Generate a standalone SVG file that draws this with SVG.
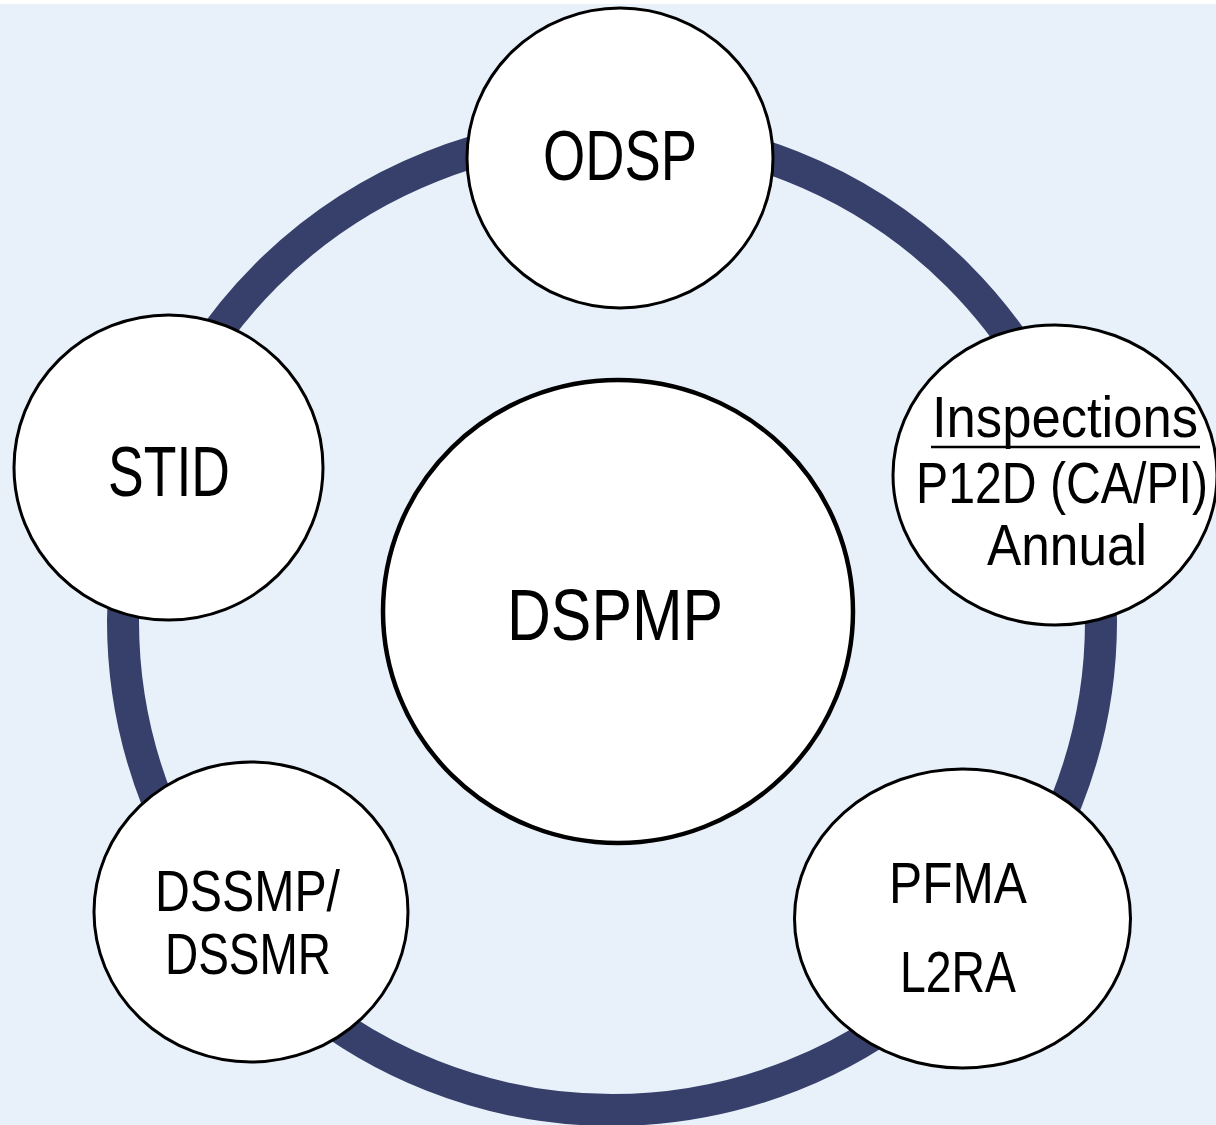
<svg xmlns="http://www.w3.org/2000/svg" width="1216" height="1125" viewBox="0 0 1216 1125">
  <style>
    .node { fill: #FFFFFF; stroke: #000000; stroke-width: 3; }
    .center { fill: #FFFFFF; stroke: #000000; stroke-width: 4.5; }
    .lbl { font-family: "Liberation Sans", Arial, sans-serif; fill: #000000; text-anchor: middle; }
    .big { font-size: 70px; }
    .mid { font-size: 57px; }
    .ring { fill: none; stroke: #36406A; stroke-width: 32; }
  </style>
  <rect x="0" y="0" width="1216" height="1125" fill="#FFFFFF"/>
  <rect x="0" y="4" width="1216" height="1121" fill="#E8F1FA"/>
  <g id="connectors">
    <circle class="ring" cx="612" cy="621" r="489"/>
  </g>
  <g id="node-dspmp">
    <ellipse class="center" cx="618" cy="611.5" rx="235" ry="231.5"/>
    <text class="lbl" x="615" y="640" font-size="72" textLength="216" lengthAdjust="spacingAndGlyphs">DSPMP</text>
  </g>
  <g id="node-odsp">
    <ellipse class="node" cx="620" cy="158" rx="153" ry="150"/>
    <text class="lbl big" x="620" y="180" textLength="154" lengthAdjust="spacingAndGlyphs">ODSP</text>
  </g>
  <g id="node-inspections">
    <ellipse class="node" cx="1055" cy="475" rx="162" ry="150"/>
    <text class="lbl mid" x="1065" y="437" textLength="266" lengthAdjust="spacingAndGlyphs">Inspections</text>
    <line x1="931" y1="447" x2="1200" y2="447" stroke="#000000" stroke-width="2.5"/>
    <text class="lbl mid" x="1062" y="503" textLength="292" lengthAdjust="spacingAndGlyphs">P12D (CA/PI)</text>
    <text class="lbl mid" x="1067" y="565" textLength="160" lengthAdjust="spacingAndGlyphs">Annual</text>
  </g>
  <g id="node-pfma">
    <ellipse class="node" cx="962.5" cy="918.5" rx="168" ry="149.5"/>
    <text class="lbl mid" x="958" y="903" textLength="138" lengthAdjust="spacingAndGlyphs">PFMA</text>
    <text class="lbl mid" x="958" y="992" textLength="116" lengthAdjust="spacingAndGlyphs">L2RA</text>
  </g>
  <g id="node-dssmp">
    <ellipse class="node" cx="251" cy="912" rx="157" ry="150"/>
    <text class="lbl mid" x="247.5" y="911" textLength="185" lengthAdjust="spacingAndGlyphs">DSSMP/</text>
    <text class="lbl mid" x="248" y="974" textLength="166" lengthAdjust="spacingAndGlyphs">DSSMR</text>
  </g>
  <g id="node-stid">
    <ellipse class="node" cx="168.5" cy="467.5" rx="154.5" ry="152.5"/>
    <text class="lbl big" x="169" y="496" textLength="122" lengthAdjust="spacingAndGlyphs">STID</text>
  </g>
</svg>
